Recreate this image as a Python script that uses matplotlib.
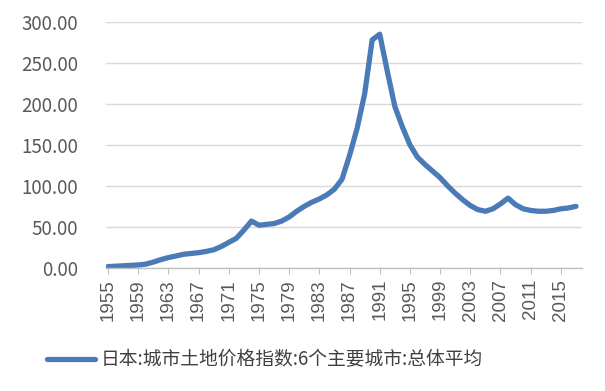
import numpy as np
import matplotlib
matplotlib.use('Agg')
import matplotlib.pyplot as plt

plt.rcParams['font.family'] = ['Noto Sans CJK SC', 'DejaVu Sans']

# 日本:城市土地价格指数:6个主要城市:总体平均
years = list(range(1955, 2018))
index_values = [
    1.5, 2, 2.5, 3, 3.5, 4.5, 7, 10, 12.5, 14.5,        # 1955-1964
    16.5, 17.5, 18.5, 20, 22, 26, 31, 36, 46, 57,       # 1965-1974
    52, 53, 54, 57, 62, 69, 75, 80, 84, 89,             # 1975-1984
    96, 108, 137, 170, 212, 278, 285, 240, 197, 172,    # 1985-1994
    150, 135, 126, 118, 110, 100, 91, 83, 76, 71,       # 1995-2004
    69, 72, 78, 85, 77, 72, 70, 69, 69, 70,             # 2005-2014
    72, 73, 75,                                         # 2015-2017
]
tick_years = list(range(1955, 2016, 4))
y_ticks = [0, 50, 100, 150, 200, 250, 300]
series_label = '日本:城市土地价格指数:6个主要城市:总体平均'

fig = plt.figure(figsize=(6.05, 3.91), dpi=100)
ax = fig.add_axes([0.175, 0.315, 0.787, 0.629])

line_color = '#4A7BB7'
ax.plot(years, index_values, color=line_color, linewidth=3.8,
        solid_capstyle='round', solid_joinstyle='round', label=series_label)

ax.set_ylim(0, 300)
ax.set_xlim(1954.72, 2017.8)
ax.set_yticks(y_ticks)
ax.set_yticklabels([f'{v:.2f}' for v in y_ticks])
ax.set_xticks(tick_years)
ax.set_xticklabels([str(y) for y in tick_years], rotation=90,
                   family=['Liberation Sans', 'DejaVu Sans'])

ax.grid(axis='y', color='#D9D9D9', linewidth=1)
ax.set_axisbelow(True)
for s in ['top', 'right', 'left']:
    ax.spines[s].set_visible(False)
ax.spines['bottom'].set_color('#BFBFBF')
ax.spines['bottom'].set_linewidth(1)

ax.tick_params(axis='y', length=0, pad=20, labelsize=13.5, labelcolor='#595959')
ax.tick_params(axis='x', length=4, color='#BFBFBF', pad=4, labelsize=13.5, labelcolor='#595959')

leg = fig.legend(loc='center', bbox_to_anchor=(0.438, 0.08), frameon=False,
                 fontsize=13.5, handlelength=2.56, handletextpad=0.27)
for t in leg.get_texts():
    t.set_color('#404040')

fig.savefig('out.png', dpi=100)
